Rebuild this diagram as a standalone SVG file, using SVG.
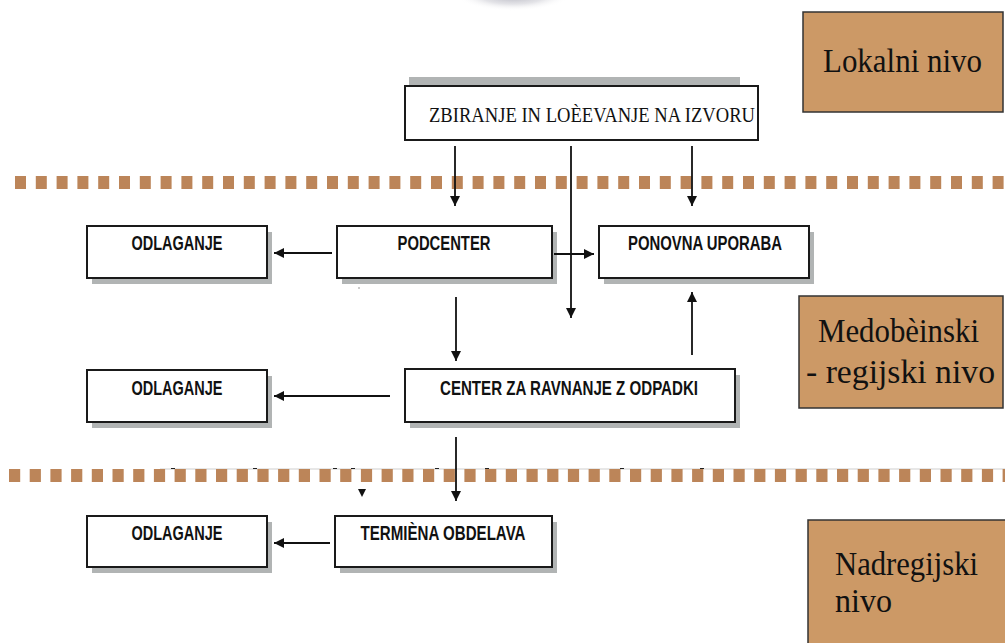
<svg xmlns="http://www.w3.org/2000/svg" width="1005" height="643" viewBox="0 0 1005 643">
<style>
.box{fill:#fff;stroke:#1a1a1a;stroke-width:2}
.shadow{fill:#b1b4b4}
.lvl{fill:#cc9966;stroke:#333;stroke-width:1.5}
.lbl{font-family:"Liberation Sans",Arial,sans-serif;font-size:20px;font-weight:bold;fill:#111;text-anchor:middle}
.ser{font-family:"Liberation Serif","Times New Roman",serif;fill:#111}
.dash{stroke:#bc8559;stroke-width:13;fill:none}
.conn{stroke:#111;stroke-width:1.8;fill:none}
</style>
<defs>
<marker id="ah" markerUnits="userSpaceOnUse" markerWidth="12" markerHeight="10" refX="10" refY="5" orient="auto">
<path d="M0,0 L10,5 L0,10 Z" fill="#111"/>
</marker>
<radialGradient id="glow" cx="0.5" cy="0.5" r="0.5">
<stop offset="0" stop-color="#9a9aa8" stop-opacity="0.9"/>
<stop offset="0.6" stop-color="#c8c8d0" stop-opacity="0.5"/>
<stop offset="1" stop-color="#fff" stop-opacity="0"/>
</radialGradient>
</defs>
<rect width="1005" height="643" fill="#fff"/>
<ellipse cx="513" cy="-6" rx="58" ry="17" fill="url(#glow)"/>

<g id="dividers">
<line class="dash" x1="15" y1="182.5" x2="1005" y2="182.5" stroke-dasharray="11 9.8"/>
<line x1="160" y1="469" x2="1005" y2="469" stroke="#cfcfcf" stroke-width="1"/>
<line class="dash" x1="9" y1="475.5" x2="1005" y2="475.5" stroke-dasharray="11.2 9.5"/>
<g stroke="#222" stroke-width="1">
<line x1="171" y1="468.5" x2="175" y2="468.5"/>
<line x1="253" y1="468.5" x2="257" y2="468.5"/>
<line x1="333" y1="468.5" x2="337" y2="468.5"/>
<line x1="351" y1="468.5" x2="355" y2="468.5"/>
<line x1="435" y1="468.5" x2="439" y2="468.5"/>
<line x1="485" y1="468.5" x2="489" y2="468.5"/>
<line x1="620" y1="468.5" x2="624" y2="468.5"/>
<line x1="700" y1="468.5" x2="704" y2="468.5"/>
</g>
</g>

<g id="level-lokalni">
<rect class="lvl" x="803" y="12" width="200" height="100"/>
<text class="ser" x="823" y="72" font-size="33" textLength="159" lengthAdjust="spacingAndGlyphs">Lokalni nivo</text>
</g>
<g id="level-medobcinski">
<rect class="lvl" x="799" y="296" width="204" height="112"/>
<text class="ser" x="818" y="342" font-size="33" textLength="161" lengthAdjust="spacingAndGlyphs">Medobèinski</text>
<text class="ser" x="806" y="383" font-size="33" textLength="189" lengthAdjust="spacingAndGlyphs">- regijski nivo</text>
</g>
<g id="level-nadregijski">
<rect class="lvl" x="808" y="520" width="200" height="130"/>
<text class="ser" x="835" y="575" font-size="33" textLength="143" lengthAdjust="spacingAndGlyphs">Nadregijski</text>
<text class="ser" x="835" y="612" font-size="33" textLength="57" lengthAdjust="spacingAndGlyphs">nivo</text>
</g>

<g id="node-zbiranje">
<rect class="shadow" x="409" y="77" width="331" height="10"/>
<rect class="box" x="405" y="86" width="353" height="54" stroke-width="1.6"/>
<text class="ser" x="429" y="122" font-size="21" textLength="326" lengthAdjust="spacingAndGlyphs">ZBIRANJE IN LOÈEVANJE NA IZVORU</text>
</g>

<g id="node-odlaganje1">
<rect class="shadow" x="92" y="232" width="180" height="52"/>
<rect class="box" x="87" y="226" width="180" height="52"/>
<text class="lbl" x="177" y="250" textLength="91" lengthAdjust="spacingAndGlyphs">ODLAGANJE</text>
</g>
<g id="node-podcenter">
<rect class="shadow" x="342" y="232" width="215" height="52"/>
<rect class="box" x="337" y="226" width="215" height="52"/>
<text class="lbl" x="444" y="250" textLength="93" lengthAdjust="spacingAndGlyphs">PODCENTER</text>
</g>
<g id="node-ponovna">
<rect class="shadow" x="604" y="232" width="210" height="52"/>
<rect class="box" x="599" y="226" width="210" height="52"/>
<text class="lbl" x="705" y="250" textLength="154" lengthAdjust="spacingAndGlyphs">PONOVNA UPORABA</text>
</g>
<g id="node-odlaganje2">
<rect class="shadow" x="92" y="376" width="180" height="52"/>
<rect class="box" x="87" y="370" width="180" height="52"/>
<text class="lbl" x="177" y="395" textLength="91" lengthAdjust="spacingAndGlyphs">ODLAGANJE</text>
</g>
<g id="node-center">
<rect class="shadow" x="410" y="375" width="330" height="53"/>
<rect class="box" x="405" y="369" width="330" height="53"/>
<text class="lbl" x="569" y="395" textLength="258" lengthAdjust="spacingAndGlyphs">CENTER ZA RAVNANJE Z ODPADKI</text>
</g>
<g id="node-odlaganje3">
<rect class="shadow" x="92" y="522" width="180" height="51"/>
<rect class="box" x="87" y="516" width="180" height="51"/>
<text class="lbl" x="177" y="540" textLength="91" lengthAdjust="spacingAndGlyphs">ODLAGANJE</text>
</g>
<g id="node-termicna">
<rect class="shadow" x="340" y="522" width="217" height="51"/>
<rect class="box" x="335" y="516" width="217" height="51"/>
<text class="lbl" x="443" y="540" textLength="165" lengthAdjust="spacingAndGlyphs">TERMIÈNA OBDELAVA</text>
</g>

<g id="connectors">
<line class="conn" x1="455" y1="146" x2="455" y2="206" marker-end="url(#ah)"/>
<line class="conn" x1="571" y1="146" x2="571" y2="318" marker-end="url(#ah)"/>
<line class="conn" x1="692" y1="146" x2="692" y2="206" marker-end="url(#ah)"/>
<line class="conn" x1="332" y1="253" x2="274" y2="253" marker-end="url(#ah)"/>
<line class="conn" x1="554" y1="254" x2="594" y2="254" marker-end="url(#ah)"/>
<line class="conn" x1="456" y1="297" x2="456" y2="361" marker-end="url(#ah)"/>
<line class="conn" x1="692" y1="355" x2="692" y2="292" marker-end="url(#ah)"/>
<line class="conn" x1="390" y1="396" x2="274" y2="396" marker-end="url(#ah)"/>
<line class="conn" x1="456" y1="437" x2="456" y2="501" marker-end="url(#ah)"/>
<line class="conn" x1="330" y1="543" x2="274" y2="543" marker-end="url(#ah)"/>
<path d="M358,489 L366,489 L362,497 Z" fill="#111"/>
<rect x="358.5" y="287.5" width="1" height="1" fill="#333"/>
</g>
</svg>
